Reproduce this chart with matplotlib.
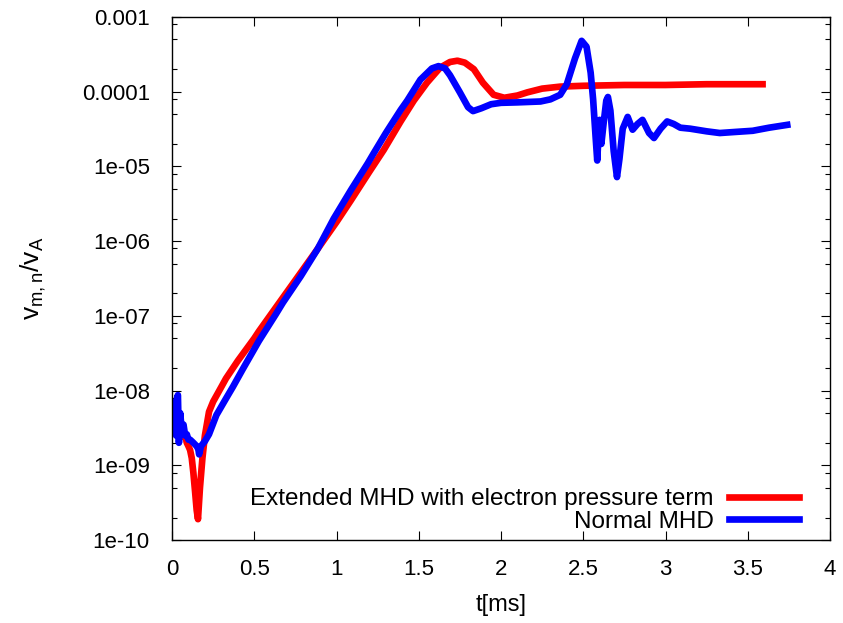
import matplotlib
matplotlib.use("Agg")
import matplotlib.pyplot as plt
from matplotlib.ticker import FixedLocator, FixedFormatter, LogLocator, NullFormatter

plt.rcParams['font.family'] = ['Liberation Sans', 'DejaVu Sans']
plt.rcParams['mathtext.default'] = 'regular'

# Extended MHD with electron pressure term
t_ext = [0.0, 0.01, 0.02, 0.03, 0.04, 0.05, 0.06, 0.07, 0.08, 0.09, 0.10, 0.11,
         0.12, 0.13, 0.14, 0.15, 0.158, 0.17, 0.185, 0.20, 0.225, 0.25,
         0.30, 0.328, 0.40, 0.50, 0.528, 0.631, 0.75, 0.886,
         1.0, 1.087, 1.2, 1.287, 1.39, 1.47, 1.55, 1.63, 1.69, 1.735, 1.78, 1.835, 1.89, 1.955,
         2.02, 2.10, 2.16, 2.25, 2.36, 2.5, 2.75, 3.0, 3.25, 3.59]
v_ext = [4.5e-9, 3.5e-9, 5.0e-9, 2.8e-9, 4.0e-9, 2.5e-9, 3.2e-9, 2.4e-9, 2.5e-9, 2.0e-9, 1.8e-9, 1.6e-9,
         1.25e-9, 7.9e-10, 4.5e-10, 2.5e-10, 1.9e-10, 5.0e-10, 1.25e-9, 2.5e-9, 5.2e-9, 7.1e-9,
         1.12e-8, 1.45e-8, 2.5e-8, 5.0e-8, 6.2e-8, 1.29e-7, 3.0e-7, 7.9e-7,
         1.8e-6, 3.5e-6, 8.5e-6, 1.66e-5, 4.0e-5, 7.6e-5, 1.32e-4, 2.1e-4, 2.5e-4, 2.6e-4, 2.45e-4, 2.0e-4, 1.32e-4, 9.1e-5,
         8.3e-5, 8.9e-5, 9.8e-5, 1.10e-4, 1.17e-4, 1.20e-4, 1.23e-4, 1.23e-4, 1.26e-4, 1.26e-4]

# Normal MHD
t_mhd = [0.0, 0.005, 0.012, 0.02, 0.025, 0.03, 0.036, 0.042, 0.05, 0.06, 0.07, 0.08,
         0.09, 0.10, 0.11, 0.12, 0.13, 0.14, 0.15, 0.16, 0.165, 0.176, 0.20, 0.225,
         0.27, 0.328, 0.37, 0.431, 0.528, 0.631, 0.674, 0.783, 0.886, 0.983, 1.087, 1.19,
         1.226, 1.30, 1.39, 1.43, 1.51, 1.58, 1.62, 1.66, 1.69, 1.75, 1.80, 1.83,
         1.88, 1.94, 2.0, 2.1, 2.24, 2.30, 2.36, 2.40, 2.45, 2.49, 2.52, 2.545,
         2.56, 2.575, 2.585, 2.595, 2.60, 2.61, 2.625, 2.64, 2.65, 2.665, 2.685, 2.705,
         2.72, 2.74, 2.77, 2.80, 2.83, 2.86, 2.90, 2.93, 2.97, 3.01, 3.05, 3.09,
         3.15, 3.25, 3.33, 3.43, 3.53, 3.63, 3.74]
v_mhd = [4.5e-9, 6.3e-9, 3.5e-9, 7.1e-9, 2.5e-9, 7.9e-9, 8.7e-9, 2.0e-9, 5.0e-9, 2.8e-9, 3.5e-9, 2.5e-9,
         2.6e-9, 2.2e-9, 2.2e-9, 2.1e-9, 2.0e-9, 1.9e-9, 1.8e-9, 1.65e-9, 1.4e-9, 1.8e-9, 2.1e-9, 2.6e-9,
         4.7e-9, 7.8e-9, 1.12e-8, 1.95e-8, 4.6e-8, 1.05e-7, 1.5e-7, 3.4e-7, 7.9e-7, 2.0e-6, 4.8e-6, 1.1e-5,
         1.5e-5, 2.8e-5, 5.7e-5, 7.6e-5, 1.45e-4, 2.05e-4, 2.2e-4, 2.05e-4, 1.66e-4, 9.8e-5, 6.2e-5, 5.5e-5,
         6.0e-5, 6.8e-5, 7.1e-5, 7.2e-5, 7.4e-5, 7.9e-5, 9.1e-5, 1.26e-4, 2.8e-4, 4.8e-4, 4.0e-4, 1.8e-4,
         7.9e-5, 2.5e-5, 1.2e-5, 3.2e-5, 4.2e-5, 2.0e-5, 4.0e-5, 7.6e-5, 8.5e-5, 5.6e-5, 1.6e-5, 7.2e-6,
         1.26e-5, 3.2e-5, 4.6e-5, 3.1e-5, 3.7e-5, 4.2e-5, 2.8e-5, 2.4e-5, 3.2e-5, 4.0e-5, 3.7e-5, 3.3e-5,
         3.2e-5, 2.95e-5, 2.8e-5, 2.9e-5, 3.0e-5, 3.3e-5, 3.6e-5]

x_ticks = [0, 0.5, 1, 1.5, 2, 2.5, 3, 3.5, 4]
x_ticklabels = ['0', '0.5', '1', '1.5', '2', '2.5', '3', '3.5', '4']
y_ticks = [1e-3, 1e-4, 1e-5, 1e-6, 1e-7, 1e-8, 1e-9, 1e-10]
y_ticklabels = ['0.001', '0.0001', '1e-05', '1e-06', '1e-07', '1e-08', '1e-09', '1e-10']
labels = ['Extended MHD with electron pressure term', 'Normal MHD']

fig = plt.figure(figsize=(8.43, 6.23), dpi=100)
ax = fig.add_axes([172/843, 1 - 540/623, (830 - 172)/843, (540 - 17)/623])

ax.plot(t_ext, v_ext, color='#ff0000', lw=4.8, label=labels[0], solid_joinstyle='round')
ax.plot(t_mhd, v_mhd, color='#0000ff', lw=4.8, label=labels[1], solid_joinstyle='round')

ax.set_yscale('log')
ax.set_xlim(0, 4)
ax.set_ylim(1e-10, 1e-3)
ax.xaxis.set_major_locator(FixedLocator(x_ticks))
ax.xaxis.set_major_formatter(FixedFormatter(x_ticklabels))
ax.yaxis.set_major_locator(FixedLocator(y_ticks))
ax.yaxis.set_major_formatter(FixedFormatter(y_ticklabels))
ax.yaxis.set_minor_locator(LogLocator(base=10, subs=[2, 5, 8], numticks=20))
ax.yaxis.set_minor_formatter(NullFormatter())

ax.tick_params(which='both', direction='in', top=True, right=True, width=0.8, colors='black')
ax.tick_params(which='major', length=6.5, labelsize=16, pad=14)
ax.tick_params(which='minor', length=3.5)
ax.tick_params(axis='y', which='major', pad=16)
for s in ax.spines.values():
    s.set_linewidth(1.0)

ax.set_xlabel('t[ms]', fontsize=17, labelpad=10)
ax.set_ylabel(r'v$_{m,n}$/v$_A$', fontsize=19, labelpad=24)

leg = ax.legend(loc='lower right', frameon=False,
                markerfirst=False, fontsize=17.5, handlelength=2.9, handletextpad=0.6,
                labelspacing=0.02, borderaxespad=0.0, borderpad=0.0)
leg.set_bbox_to_anchor((799/843, 1 - 533/623), transform=fig.transFigure)

fig.savefig('out.png', dpi=100)
